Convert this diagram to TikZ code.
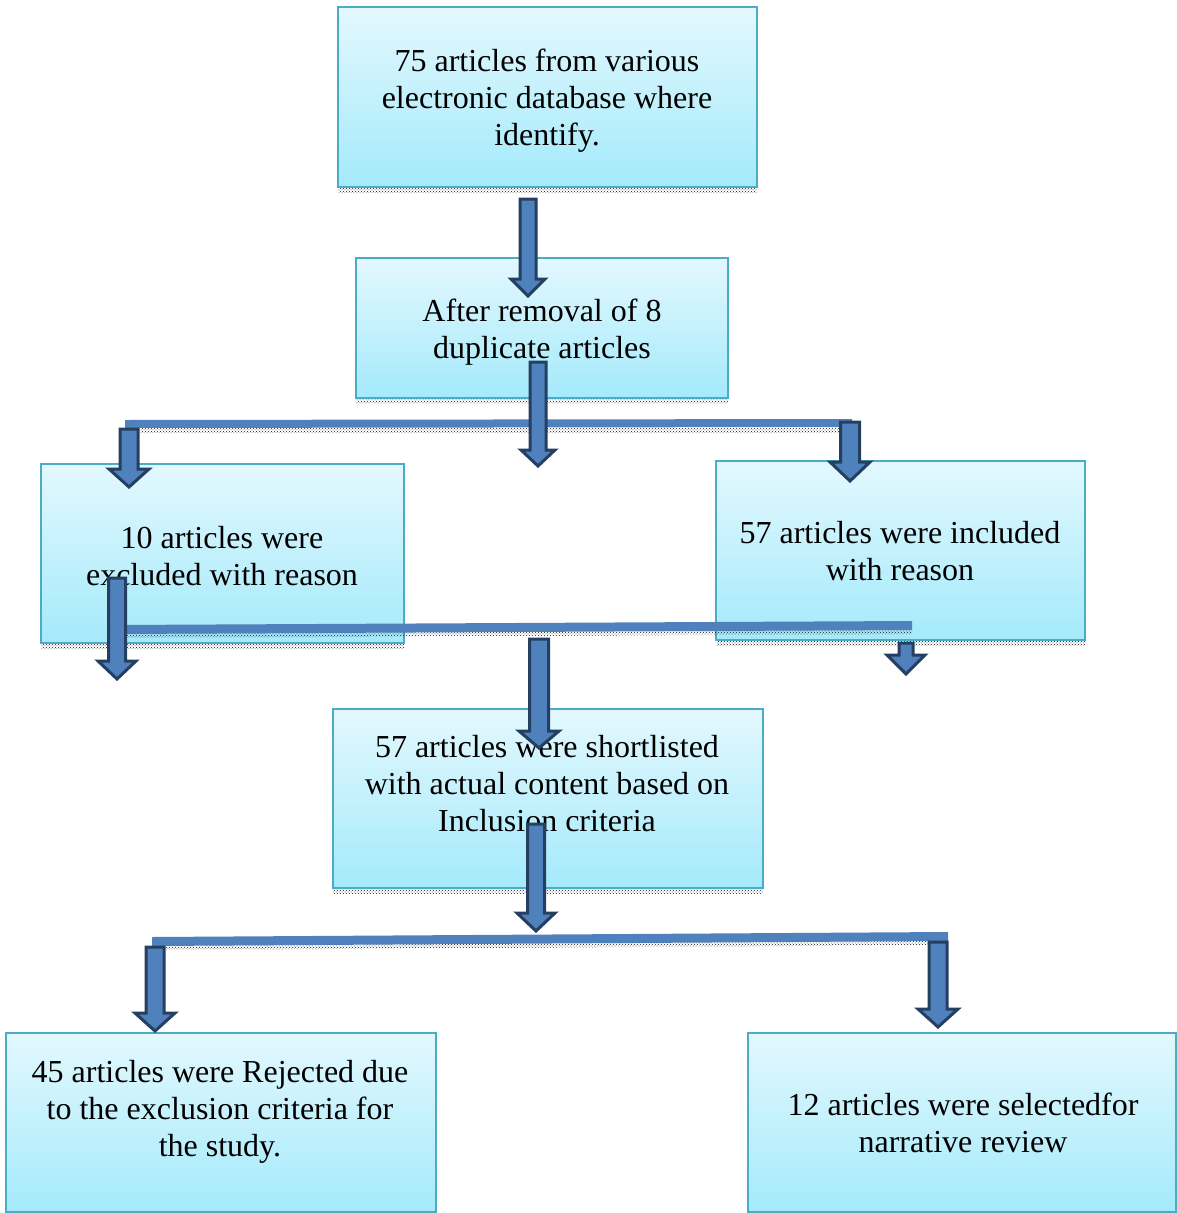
\documentclass[tikz,border=0pt]{standalone}
\usepackage{fontspec}
\setmainfont{Liberation Serif}
\usetikzlibrary{patterns}
\definecolor{boxtop}{HTML}{E3F8FE}
\definecolor{boxbot}{HTML}{A4EAFB}
\definecolor{boxline}{HTML}{4BACC6}
\definecolor{arrfill}{HTML}{4F81BD}
\definecolor{arrline}{HTML}{243F60}
\newcommand\blkarrow[7]{% name, x, ytop, yhead, ytip, half shaft, half head
  \coordinate (#1s) at (#2,#3);
  \coordinate (#1e) at (#2,#5);
  \filldraw[blockarrow] ({#2-#6},#3) -- ({#2+#6},#3) -- ({#2+#6},#4) -- ({#2+#7},#4)
    -- (#1e) -- ({#2-#7},#4) -- ({#2-#6},#4) -- cycle;}
\newcommand\shadowstrip[3]{% x1, x2, y
  \fill[pattern=crosshatch dots, pattern color=black!90] (#1,#3) rectangle (#2,{#3+4});}
\begin{document}
\begin{tikzpicture}[x=1pt,y=-1pt,
  box/.style={draw=boxline, line width=1.5pt, top color=boxtop, bottom color=boxbot, inner sep=0pt},
  txt/.style={align=center, inner sep=0pt, anchor=base, font=\fontsize{32}{37}\selectfont},
  blockarrow/.style={fill=arrfill, draw=arrline, line width=3pt, line join=miter},
  barstyle/.style={fill=arrfill, draw=none}]
\useasboundingbox (0,0) rectangle (1177,1213);
% boxes
\node[box, minimum width=419pt, minimum height=180pt] (b1) at (547.5,97) {};
\node[box, minimum width=372pt, minimum height=140pt] (b2) at (542,328) {};
\node[box, minimum width=363pt, minimum height=179pt] (b3) at (222.5,553.5) {};
\node[box, minimum width=369pt, minimum height=179pt] (b4) at (900.5,550.5) {};
\node[box, minimum width=430pt, minimum height=179pt] (b5) at (548,798.5) {};
\node[box, minimum width=430pt, minimum height=179pt] (b6) at (221,1122.5) {};
\node[box, minimum width=428pt, minimum height=179pt] (b7) at (962,1122.5) {};
% texts (anchor base = baseline of last line)
\node[txt] (t1) at (547,145) {75 articles from various\\electronic database where\\identify.};
\node[txt] (t2) at (542,358) {After removal of 8\\duplicate articles};
\node[txt] (t3) at (222,585) {10 articles were\\excluded with reason};
\node[txt] (t4) at (900,580) {57 articles were included\\with reason};
\node[txt] (t5) at (547,831) {57 articles were shortlisted\\with actual content based on\\Inclusion criteria};
\node[txt] (t6) at (220,1156) {45 articles were Rejected due\\to the exclusion criteria for\\the study.};
\node[txt] (t7) at (963,1152) {12 articles were selectedfor\\narrative review};
% shadows under boxes
\shadowstrip{338}{757}{188}
\shadowstrip{356}{728}{399}
\shadowstrip{41}{404}{644}
\shadowstrip{716}{1085}{641}
\shadowstrip{333}{763}{889}
% bars
\fill[barstyle] (125,420) -- (852,419) -- (852,427) -- (125,428) -- cycle;
\shadowstrip{140}{852}{428}
\fill[barstyle] (115,625) -- (912,621) -- (912,630) -- (115,634) -- cycle;
\fill[pattern=crosshatch dots, pattern color=black!90] (120,634) -- (912,630) -- (912,634) -- (120,638) -- cycle;
\fill[barstyle] (152,937) -- (948,932) -- (948,941) -- (152,946) -- cycle;
\fill[pattern=crosshatch dots, pattern color=black!90] (165,946) -- (948,941) -- (948,945) -- (165,950) -- cycle;
% block arrows
\blkarrow{a1}{528}{199}{279}{296}{8}{17}
\blkarrow{a2}{538}{362}{450}{466}{8}{17}
\blkarrow{a3}{129}{429}{469}{487}{9}{20}
\blkarrow{a4}{850}{422}{462}{481}{9.5}{20}
\blkarrow{a5}{117}{578}{661}{679}{8.5}{19}
\blkarrow{a6}{906}{643}{655}{674}{7}{19}
\blkarrow{a7}{539}{639}{731}{748}{9.5}{20}
\blkarrow{a8}{536}{824}{913}{931}{8.5}{19}
\blkarrow{a9}{155}{947}{1013}{1031}{9}{20}
\blkarrow{a10}{938}{942}{1009}{1027}{9}{20}
\end{tikzpicture}
\end{document}
